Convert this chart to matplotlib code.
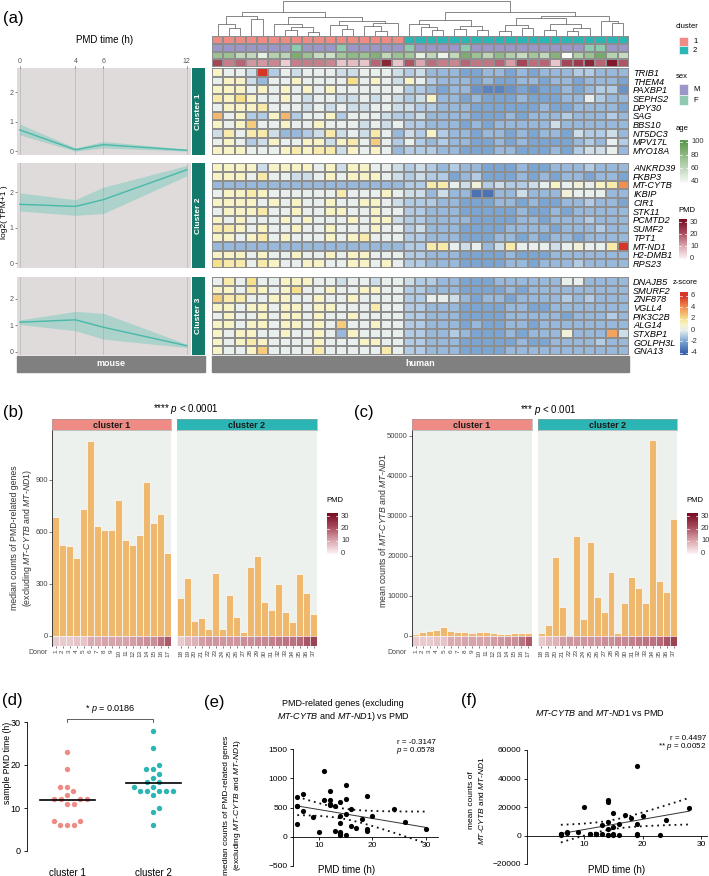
import numpy as np
import matplotlib
matplotlib.use("Agg")
import matplotlib.pyplot as plt
from matplotlib.colors import LinearSegmentedColormap, ListedColormap, Normalize
from matplotlib.patches import Rectangle

plt.rcParams['font.family'] = ['Liberation Sans', 'DejaVu Sans']
plt.rcParams['mathtext.fontset'] = 'custom'
plt.rcParams['mathtext.rm'] = 'Liberation Sans'
plt.rcParams['mathtext.it'] = 'Liberation Sans:italic'
plt.rcParams['axes.linewidth'] = 0.6

# ---------------- data ----------------
mouse_time = [0, 4, 6, 12]
mouse_mean = [[0.72, 0.05, 0.22, 0.03], [1.66, 1.60, 1.79, 2.63], [1.11, 1.20, 0.92, 0.22]]
mouse_low = [[0.55, 0.00, 0.11, 0.00], [1.47, 1.35, 1.40, 2.46], [1.02, 0.79, 0.47, 0.15]]
mouse_high = [[0.92, 0.11, 0.33, 0.07], [1.98, 1.79, 2.14, 2.75], [1.20, 1.52, 1.45, 0.28]]

genes_c1 = ['TRIB1', 'THEM4', 'PAXBP1', 'SEPHS2', 'DPY30', 'SAG', 'BBS10', 'NT5DC3', 'MPV17L', 'MYO18A']
genes_c2 = ['ANKRD39', 'FKBP3', 'MT-CYTB', 'IKBIP', 'CIR1', 'STK11', 'PCMTD2', 'SUMF2', 'TPT1',
            'MT-ND1', 'H2-DMB1', 'RPS23']
genes_c3 = ['DNAJB5', 'SMURF2', 'ZNF878', 'VGLL4', 'PIK3C2B', 'ALG14', 'STXBP1', 'GOLPH3L', 'GNA13']

# z-score codes: one letter per heatmap cell
z_codes = 'ABCDEFGHIJKLMNOPQR'
z_levels = [-3.5, -3, -2.5, -2, -1.5, -1, -0.5, 0, 0.5, 1, 1.5, 2, 2.5, 3, 3.5, 4, 5, 6]

hm_c1 = ['JHHGRFHGHHHGGHHHG' 'FGEEEDDEEDEDEEEFFEEE',
         'HJJGEHHJHHHHLHJHG' 'JHFEEEDEDDEEDEEDEEED',
         'JJJHJHJHJHJHHHHHH' 'FFEDEECBBCDCDDEDEFFC',
         'KJLJHHJHGHHGGHGHG' 'FGJEEDEDDDEDDDEEHFEE',
         'HJJJKHHHGHGHGGHHG' 'GFFEEEDDDDDDEDDEEEED',
         'NHJFFJNFHHJFHHHGF' 'FGEEEEDDDEDEEEFEEEFE',
         'JHJMHHJHHJHHHGHGH' 'FFEEEDEDEEEEEGEEEEEE',
         'GKHKKGEEFGKGHGKHE' 'GFJFEEDEEDEDEEDGFFGE',
         'HJHFGJHHJJGJKHMHF' 'HFEFEEDDEDEDDDDEFEHF',
         'JJJHHHJKJKKGJHJHE' 'FFFEEDDDEEDDDEDFGGHE']
hm_c2 = ['JJJJGJJJJHJGJJHHG' 'FGFEFEEDDDEDDEEEFEEE',
         'JJJHKHHGGHJHJJJHG' 'FGFFDEFDDDEDEDEEDEED',
         'EEEEEEEEEEEEEEEEE' 'FFKKHGIFGFFGHJHIHJKP',
         'HJJKJHHHHHHKHHHJH' 'GGEGEEAAEEGEEEIHHHEE',
         'JJJJHJHJHHJHHJJHG' 'FFFEEDDDEEDEDDEEFEED',
         'HJJJKHHJHHJJHHJHH' 'FFEEEDDDDDEDDEDEEEEE',
         'JHJHHHJHJHHHJHJJG' 'FFEEEEDDDDEEDEEEFEEE',
         'KKJHJHHJHHJHHHJHH' 'FGEEEDDDDEEEEDEEEFEE',
         'JJHJKHJHHHJHJKHHH' 'FFEEEDDDEEDEDEEDEEEE',
         'EEEEEEEEEEEEEEEEE' 'FFKKHGHEGKHHHGHIHHKR',
         'JJJHJHHJHHJHJJHHH' 'FFEEEDDDDEDDDEEEEEEE',
         'LKKHKJHHJJHHJJHJH' 'FFEEEDDDDEEDEEEFEEEE']
hm_c3 = ['HKHLHHJJJHHGHHGHH' 'GFFEEDDDEEEEEEHHEEEE',
         'JJHKJHJLHHJHHJJHH' 'FFEEEDDDDEDEEEEEEEEE',
         'MKKHHJJHHJHHJHHHH' 'FFHHGEDEEDEEEEFEFEEE',
         'JJHJJHJJHJJHHHKHH' 'FFEEEDDDDEEDDEEEEEEE',
         'HJHHJHJJHJHHJHHHH' 'FFEEEDDDDEEEEEDEEEFE',
         'JJHJJHJJHJHMHHJHH' 'FFEEEDEDDEEDEEEEEEEE',
         'JHJJHHJHHJHEJHHHH' 'FFEEFEDDDEDEEEIEEEOG',
         'JHJKJHHHHJHHHJJHH' 'FFEEEDDDDDEDDEEEEFEE',
         'JHHJMHHHHKHHHHHKH' 'FFEEEDDDDEEEEEEEEEEE']

# column annotations (heatmap order)
hm_cluster = [1] * 17 + [2] * 20
hm_sex = list('MMMMMMMFMMMFMMMMM' 'FMMMMFMMMMMMMMMMFFMM')
hm_age = [75, 75, 60, 60, 45, 65, 62, 88, 75, 58, 55, 72, 80, 75, 85, 60, 75,
          72, 45, 60, 42, 60, 88, 75, 62, 80, 66, 58, 72, 60, 84, 38, 66, 75, 90, 64, 58]
hm_pmd = [22, 15, 18, 12, 12, 14, 5, 15, 15, 15, 14, 6, 7, 6, 18, 28, 6,
          20, 10, 17, 15, 14, 18, 16, 16, 18, 11, 22, 17, 18, 6, 22, 24, 28, 18, 30, 20]

# column dendrogram: [left, right, height]
tree_a = [[0, [1, 2, 8], 12], [3, 4, 17], 20]
tree_b = [[5, [[6, 7, 6], [8, 9, 4], 9], 12], [[10, [11, 12, 7], 11], [[13, [14, 15, 5], 10], 16, 13], 15], 19]
tree_c = [[17, [18, [19, 20, 6], 9], 12], [[21, 22, 7], [23, 24, 6], 10], 16]
tree_d = [[[25, 26, 5], [27, 28, 8], 11], [[29, 30, 6], [[31, 32, 5], 33, 8], 12], 18]
tree_e = [34, [35, 36, 13], 15]
tree = [[tree_a, tree_b, 24], [tree_c, [tree_d, tree_e, 20], 24], 35]

donors_c1 = list(range(1, 18))
donors_c2 = list(range(18, 38))
pmd_c1 = [6, 6, 6, 7, 7, 11, 11, 12, 12, 12, 12, 13, 14, 15, 15, 19, 23]
pmd_c2 = [6, 9, 10, 13, 14, 14, 14, 14, 14, 15, 15, 16, 16, 17, 18, 19, 19, 20, 24, 28]
median_c1 = [684, 523, 519, 448, 731, 1127, 635, 612, 612, 785, 554, 523, 585, 888, 654, 702, 481]
median_c2 = [221, 333, 85, 104, 42, 365, 42, 237, 110, 23, 400, 462, 194, 152, 298, 137, 83, 358, 248, 129]
mt_c1 = [580, 900, 1300, 1600, 2200, 1250, 900, 1100, 750, 1000, 900, 850, 600, 600, 850, 750, 650]
mt_c2 = [650, 2800, 19800, 7200, 50, 25000, 4300, 23500, 9750, 5900, 15900, 650, 8250, 14700, 12100,
         8300, 49000, 13750, 11100, 29250]

# scatter panels (e) and (f)
e_pmd = [6, 6, 6, 6, 7, 7, 9, 10, 11, 11, 12, 12, 12, 12, 13, 13, 14, 14, 14, 14, 14, 14,
         15, 15, 15, 15, 16, 16, 17, 18, 19, 19, 19, 20, 24, 26, 30]
e_counts = [673, 525, 519, 217, 730, 445, 336, 80, 1130, 630, 787, 627, 554, 541, 525, 97,
            587, 353, 228, 74, 42, 34, 884, 650, 388, 34, 467, 182, 148, 296, 696, 140, 90,
            355, 473, 245, 125]
f_pmd = [6, 6, 6, 7, 7, 9, 10, 11, 11, 12, 12, 12, 12, 13, 13, 14, 14, 14, 14, 14, 14,
         15, 15, 15, 15, 16, 16, 17, 18, 19, 19, 19, 19, 20, 23, 24, 28]
f_counts = [900, 600, 1300, 1600, 2200, 2800, 19800, 1250, 900, 1100, 750, 1000, 900, 850, 7200,
            25000, 23500, 9750, 4300, 600, 50, 16000, 5900, 600, 850, 8250, 650, 14700, 12100,
            48700, 8300, 750, 650, 14000, 650, 11000, 19600]

# ---------------- styles ----------------
W, H = 709, 876
fig = plt.figure(figsize=(W / 100, H / 100), dpi=100)

pink, teal = '#ef8b85', '#2bb5b4'
dark_teal = '#13796a'
bar_color = '#eeb96e'
panel_bg = '#edf1ee'
z_anchor = [-4, -2, -1, 0, 1, 2, 4, 6]
z_colors = ['#3a64ab', '#7ba5d3', '#b3cde5', '#e9efec', '#f8f3c6', '#f6e08c', '#f2904f', '#d8352a']
z_cmap = LinearSegmentedColormap.from_list(
    'z', [((v + 4) / 10, c) for v, c in zip(z_anchor, z_colors)])
z_norm = Normalize(-4, 6)
age_cmap = LinearSegmentedColormap.from_list('age', ['#ffffff', '#5e9a4f'])
age_norm = Normalize(35, 100)
pmd_cmap = LinearSegmentedColormap.from_list('pmd', ['#fcf0f2', '#d9a3ab', '#a84a5c', '#7a0f24'])
pmd_norm = Normalize(0, 32)


def px_axes(x0, y0, x1, y1):
    return fig.add_axes([x0 / W, 1 - y1 / H, (x1 - x0) / W, (y1 - y0) / H])


def clean(ax):
    for s in ax.spines.values():
        s.set_visible(False)


def decode(rows):
    return np.array([[z_levels[z_codes.index(ch)] for ch in r] for r in rows])


def draw_tree(ax, node):
    if isinstance(node, int):
        return node + 0.5, 0
    left, right, h = node
    xl, hl = draw_tree(ax, left)
    xr, hr = draw_tree(ax, right)
    ax.plot([xl, xl, xr, xr], [hl, h, h, hr], color='#666666', lw=0.55)
    return (xl + xr) / 2, h


# ---------------- panel (a) ----------------
block_rows = [(68, 155), (163, 268), (277, 355)]
blocks = [(genes_c1, hm_c1), (genes_c2, hm_c2), (genes_c3, hm_c3)]

for k, (top, bot) in enumerate(block_rows):
    ax = px_axes(17, top, 191, bot)
    ax.set_facecolor('#dfdbdb')
    ax.fill_between(mouse_time, mouse_low[k], mouse_high[k], color='#5cc3b3', alpha=0.38, lw=0)
    ax.plot(mouse_time, mouse_mean[k], color='#49b9a8', lw=1)
    ax.set_xlim(-0.2, 12.3)
    ax.set_ylim(-0.13, 2.82)
    ax.set_xticks(mouse_time)
    ax.grid(axis='x', color='#bdbdbd', lw=0.6)
    ax.set_axisbelow(True)
    ax.set_yticks([0, 1, 2])
    ax.tick_params(labelsize=5, length=1.5, pad=1, colors='#555555', width=0.5)
    clean(ax)
    if k == 0:
        ax.xaxis.tick_top()
    else:
        ax.tick_params(axis='x', length=0, labelbottom=False)

    sax = px_axes(192, top, 205, bot)
    sax.set_facecolor(dark_teal)
    sax.set_xticks([])
    sax.set_yticks([])
    clean(sax)
    sax.text(0.5, 0.5, f'Cluster {k + 1}', rotation=90, color='white', fontsize=6,
             fontweight='bold', ha='center', va='center', transform=sax.transAxes)

    genes, rows = blocks[k]
    data = decode(rows)
    hax = px_axes(212, top, 629, bot)
    hax.pcolormesh(data, cmap=z_cmap, norm=z_norm, edgecolors='#8e8e8e', linewidth=0.35)
    hax.set_ylim(len(genes), 0)
    hax.set_xlim(0, data.shape[1])
    hax.set_xticks([])
    hax.yaxis.tick_right()
    hax.set_yticks(np.arange(len(genes)) + 0.5)
    hax.set_yticklabels(genes, fontsize=6.6, style='italic')
    hax.tick_params(length=0, pad=3)
    clean(hax)

# dendrogram
dax = px_axes(212, 0, 629, 36)
draw_tree(dax, tree)
dax.set_xlim(0, 37)
dax.set_ylim(0, 36)
dax.axis('off')

# annotation rows
aax = px_axes(212, 36, 629, 67)
cols = np.arange(38)
aax.pcolormesh(cols, [0, 1], [hm_cluster], cmap=ListedColormap([pink, teal]), vmin=1, vmax=2,
               edgecolors='#8e8e8e', linewidth=0.35)
aax.pcolormesh(cols, [1, 2], [[0 if s == 'M' else 1 for s in hm_sex]],
               cmap=ListedColormap(['#9b97c9', '#8ecab0']), vmin=0, vmax=1,
               edgecolors='#8e8e8e', linewidth=0.35)
aax.pcolormesh(cols, [2, 3], [hm_age], cmap=age_cmap, norm=age_norm, edgecolors='#8e8e8e', linewidth=0.35)
aax.pcolormesh(cols, [3, 4], [hm_pmd], cmap=pmd_cmap, norm=pmd_norm, edgecolors='#8e8e8e', linewidth=0.35)
aax.set_ylim(4, 0)
aax.set_xlim(0, 37)
aax.axis('off')


# ---------------- panels (b) and (c) ----------------
def bar_panel(x0, x1, donors, values, pmd, ylim, strip_color, name, yticks, show_y):
    ax = px_axes(x0, 430, x1, 646)
    ax.set_facecolor(panel_bg)
    idx = np.arange(len(values))
    ax.bar(idx, values, width=1, color=bar_color, edgecolor='white', lw=0.5)
    ax.bar(idx, ylim[0], width=1, color=pmd_cmap(pmd_norm(np.array(pmd))), edgecolor='white',
           lw=0.4, alpha=0.85)
    ax.set_xlim(-0.5, len(values) - 0.5)
    ax.set_ylim(*ylim)
    ax.set_xticks(idx)
    ax.set_xticklabels(donors, rotation=90, fontsize=4.6, color='#444444')
    ax.tick_params(axis='x', length=1.5, pad=1, width=0.5, colors='#444444')
    clean(ax)
    if show_y:
        ax.spines['left'].set_visible(True)
        ax.spines['left'].set_color('#222222')
        ax.set_yticks(yticks)
        ax.tick_params(axis='y', labelsize=5.5, length=2, pad=1, width=0.5, colors='#444444')
    else:
        ax.set_yticks([])
    sax = px_axes(x0, 419, x1, 430)
    sax.set_facecolor(strip_color)
    sax.set_xticks([])
    sax.set_yticks([])
    for s in sax.spines.values():
        s.set_color('#9a9a9a')
        s.set_linewidth(0.4)
    sax.text(0.5, 0.45, name, fontsize=6.5, fontweight='bold', ha='center', va='center',
             transform=sax.transAxes, color='#1a1a1a')
    return ax


bar_panel(52, 171, donors_c1, median_c1, pmd_c1, (-58, 1188), pink, 'cluster 1', [0, 300, 600, 900], True)
bar_panel(177, 317, donors_c2, median_c2, pmd_c2, (-58, 1188), teal, 'cluster 2', [], False)
bar_panel(412, 532, donors_c1, mt_c1, pmd_c1, (-2500, 51500), pink, 'cluster 1',
          [0, 10000, 20000, 30000, 40000, 50000], True)
bar_panel(538, 677, donors_c2, mt_c2, pmd_c2, (-2500, 51500), teal, 'cluster 2', [], False)


# ---------------- panel (d) ----------------
def swarm(vals, xpx=86.0, ypx=4.3, gap=7.0):
    placed = []
    offs = np.zeros(len(vals))
    for i in np.argsort(vals, kind='stable'):
        y = vals[i] * ypx
        for step in range(60):
            hit = False
            for c in ([0.0] if step == 0 else [step * 1.0, -step * 1.0]):
                if all((c - px) ** 2 + (y - py) ** 2 >= gap ** 2 for px, py in placed):
                    placed.append((c, y))
                    offs[i] = c / xpx
                    hit = True
                    break
            if hit:
                break
    return offs


axd = px_axes(27, 722, 196, 851)
for k, (vals, col) in enumerate([(pmd_c1, pink), (pmd_c2, teal)]):
    vals = np.array(vals, dtype=float)
    axd.scatter(k + 1 + swarm(vals), vals, s=15, color=col, lw=0, zorder=3)
    avg = np.mean(vals)
    axd.plot([k + 1 - 0.32, k + 1 + 0.32], [avg, avg], color='black', lw=1.2, zorder=4)
axd.set_xlim(0.53, 2.5)
axd.set_ylim(0, 30)
axd.set_yticks([0, 10, 20, 30])
axd.set_xticks([1, 2])
axd.set_xticklabels(['cluster 1', 'cluster 2'])
axd.spines[['top', 'right', 'bottom']].set_visible(False)
axd.tick_params(labelsize=6.5, length=2.5, width=0.6, pad=2)
axd.tick_params(axis='x', length=0, pad=12, labelsize=7)


# ---------------- panels (e) and (f) ----------------
def fit_band(ax, x, y):
    x = np.asarray(x, dtype=float)
    y = np.asarray(y, dtype=float)
    b, a = np.polyfit(x, y, 1)
    xs = np.linspace(x.min(), x.max(), 60)
    n = len(x)
    s = np.sqrt(np.sum((y - (a + b * x)) ** 2) / (n - 2))
    se = s * np.sqrt(1 / n + (xs - x.mean()) ** 2 / np.sum((x - x.mean()) ** 2))
    ax.plot(xs, a + b * xs, color='#333333', lw=0.7)
    ax.plot(xs, a + b * xs + 2.03 * se, color='#111111', lw=1.3, ls=(0, (1, 2.2)))
    ax.plot(xs, a + b * xs - 2.03 * se, color='#111111', lw=1.3, ls=(0, (1, 2.2)))


def scatter_panel(box, x, y, xlim, ylim, yticks):
    ax = px_axes(*box)
    ax.scatter(x, y, s=14, color='black', lw=0, zorder=3)
    fit_band(ax, x, y)
    ax.set_xlim(*xlim)
    ax.set_ylim(*ylim)
    ax.set_yticks(yticks)
    ax.set_xticks([10, 20, 30])
    ax.spines[['top', 'right']].set_visible(False)
    ax.spines['bottom'].set_position(('data', 0))
    ax.tick_params(labelsize=6, length=2.5, width=0.6, pad=1.5)
    return ax


scatter_panel((293, 749, 438, 866), e_pmd, e_counts, (5.2, 32.2), (-500, 1500),
              [-500, 0, 500, 1000, 1500])
scatter_panel((527, 750, 707, 864), f_pmd, f_counts, (0.2, 31), (-20000, 60000),
              [-20000, 0, 20000, 40000, 60000])

# ---------------- overlay texts / legends ----------------
ov = fig.add_axes([0, 0, 1, 1])
ov.set_xlim(0, W)
ov.set_ylim(H, 0)
ov.axis('off')

for lbl, x, y in [('(a)', 3, 18), ('(b)', 3, 413), ('(c)', 354, 413), ('(d)', 2, 701),
                  ('(e)', 204, 702), ('(f)', 461, 700)]:
    ov.text(x, y, lbl, fontsize=12, ha='left', va='center')

ov.text(105, 40, 'PMD time (h)', fontsize=7, ha='center', va='center')
ov.text(5, 212, 'log2( TPM+1 )', fontsize=6, rotation=90, ha='center', va='center')
ov.add_patch(Rectangle((17, 356), 188, 16, color='#808080'))
ov.text(111, 364, 'mouse', color='white', fontsize=6.5, fontweight='bold', ha='center', va='center')
ov.add_patch(Rectangle((212, 356), 417, 16, color='#808080'))
ov.text(420, 364, 'human', color='white', fontsize=6.5, fontweight='bold', ha='center', va='center')

# heatmap legends
ov.text(676, 27, 'cluster', fontsize=5.5, va='center')
for i, (c, t) in enumerate([(pink, '1'), (teal, '2')]):
    ov.add_patch(Rectangle((679, 37 + 8.5 * i), 9, 8.5, facecolor=c, edgecolor='white', lw=0.4))
    ov.text(693, 41.5 + 8.5 * i, t, fontsize=5.5, va='center')
ov.text(676, 76, 'sex', fontsize=5.5, va='center')
for i, (c, t) in enumerate([('#9b97c9', 'M'), ('#8ecab0', 'F')]):
    ov.add_patch(Rectangle((679, 84 + 10.5 * i), 9, 10.5, facecolor=c, edgecolor='white', lw=0.4))
    ov.text(693, 89.5 + 10.5 * i, t, fontsize=5.5, va='center')


def vbar(x0, x1, y0, y1, vtop, vbot, cmap, norm, ticks, title, ty, tx):
    grad = np.linspace(vtop, vbot, 120).reshape(-1, 1)
    ov.imshow(grad, extent=[x0, x1, y1, y0], cmap=cmap, norm=norm, aspect='auto', origin='upper')
    for t in ticks:
        yy = y0 + (vtop - t) / (vtop - vbot) * (y1 - y0)
        ov.plot([x0, x0 + 2], [yy, yy], color='white', lw=0.5)
        ov.plot([x1 - 2, x1], [yy, yy], color='white', lw=0.5)
        ov.text(x1 + 3, yy, str(t), fontsize=5.5, va='center', color='#333333')
    ov.text(tx, ty, title, fontsize=5.5, va='center')


vbar(680, 688, 140, 183, 103, 38, age_cmap, age_norm, [100, 80, 60, 40], 'age', 128, 676)
vbar(679, 687, 219, 259, 32.5, -0.5, pmd_cmap, pmd_norm, [30, 20, 10, 0], 'PMD', 210, 678)
vbar(680, 688, 292, 355, 6.7, -4.4, z_cmap, z_norm, [6, 4, 2, 0, -2, -4], 'z-score', 283, 673)
vbar(327, 338, 513, 554, 32.5, -0.5, pmd_cmap, pmd_norm, [30, 20, 10, 0], 'PMD', 501, 326)
vbar(687, 698, 513, 554, 32.5, -0.5, pmd_cmap, pmd_norm, [30, 20, 10, 0], 'PMD', 501, 686)
ov.set_xlim(0, W)
ov.set_ylim(H, 0)

# (b) / (c) annotations
ov.text(186, 409, r'**** $\it{p}$ < 0.0001', fontsize=7, ha='center', va='center')
ov.text(548, 410, r'*** $\it{p}$ < 0.001', fontsize=7, ha='center', va='center')
ov.text(38, 653, 'Donor', fontsize=5, ha='center', va='center', color='#444444')
ov.text(397, 653, 'Donor', fontsize=5, ha='center', va='center', color='#444444')
ov.text(22, 538, 'median counts of PMD-related genes\n(excluding $\\it{MT}$-$\\it{CYTB}$ and $\\it{MT}$-$\\it{ND1}$)',
        fontsize=6.3, rotation=90, ha='center', va='center', color='#333333', linespacing=1.2)
ov.text(382, 530, 'mean counts of $\\it{MT}$-$\\it{CYTB}$ and $\\it{MT}$-$\\it{ND1}$',
        fontsize=6.3, rotation=90, ha='center', va='center', color='#333333')

# (d) bracket and label
ov.plot([67, 67, 153, 153], [722, 719, 719, 722], color='#444444', lw=0.6)
ov.text(110, 709, r'* $\it{p}$ = 0.0186', fontsize=6.5, ha='center', va='center')
ov.text(8, 763, 'sample PMD time (h)', fontsize=6.3, rotation=90, ha='center', va='center')

# (e)
ov.text(343, 711, 'PMD-related genes (excluding\n$\\it{MT}$-$\\it{CYTB}$ and $\\it{MT}$-$\\it{ND1}$) vs PMD',
        fontsize=6.5, ha='center', va='center', linespacing=1.3)
ov.text(436, 742, 'r = -0.3147', fontsize=5.8, ha='right', va='center')
ov.text(436, 750, r'$\it{p}$ = 0.0578', fontsize=5.8, ha='right', va='center')
ov.text(233, 805, 'median counts of PMD-related genes\n(excluding $\\it{MT}$-$\\it{CYTB}$ and $\\it{MT}$-$\\it{ND1}$)',
        fontsize=6, rotation=90, ha='center', va='center', linespacing=1.2)
ov.text(347, 870, 'PMD time (h)', fontsize=7, ha='center', va='center')

# (f)
ov.text(600, 713, '$\\it{MT}$-$\\it{CYTB}$ and $\\it{MT}$-$\\it{ND1}$ vs PMD', fontsize=6.5,
        ha='center', va='center')
ov.text(706, 739, 'r = 0.4497', fontsize=5.8, ha='right', va='center')
ov.text(706, 747, r'** $\it{p}$ = 0.0052', fontsize=5.8, ha='right', va='center')
ov.text(477, 800, 'mean counts of\n$\\it{MT}$-$\\it{CYTB}$ and $\\it{MT}$-$\\it{ND1}$', fontsize=6,
        rotation=90, ha='center', va='center', linespacing=1.2)
ov.text(617, 870, 'PMD time (h)', fontsize=7, ha='center', va='center')

fig.savefig('out.png', dpi=100)
